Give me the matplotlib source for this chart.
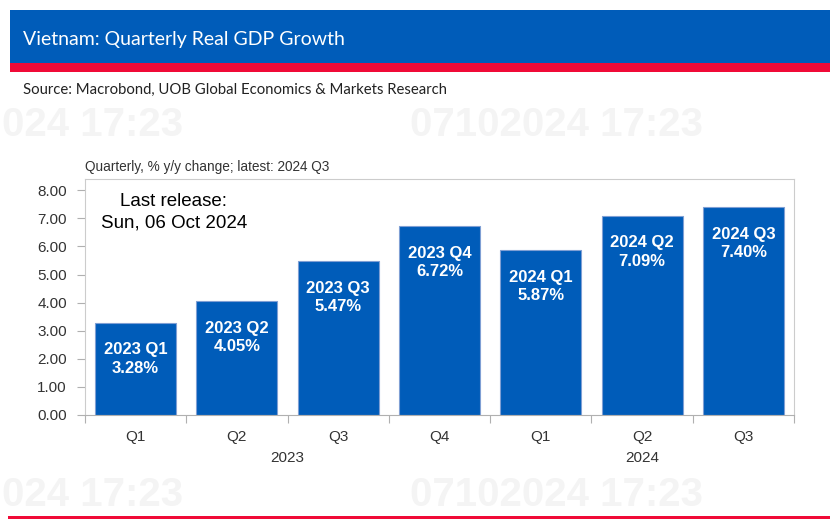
import matplotlib
matplotlib.use("Agg")
import matplotlib.pyplot as plt
from matplotlib.patches import Rectangle
from matplotlib import transforms
import numpy as np

# data
quarters = ["Q1", "Q2", "Q3", "Q4", "Q1", "Q2", "Q3"]
years = ["2023", "2023", "2023", "2023", "2024", "2024", "2024"]
growth = [3.28, 4.05, 5.47, 6.72, 5.87, 7.09, 7.40]
year_groups = [("2023", 0, 3), ("2024", 4, 6)]

BLUE = "#005CB9"
RED = "#F00A37"
plt.rcParams["font.family"] = ["Liberation Sans", "DejaVu Sans"]

fig = plt.figure(figsize=(8.35, 5.22), dpi=100)
W, H = 835.0, 522.0

def fx(px):
    return px / W

def fy(py):
    return 1 - py / H

# faint watermark
for (x, y, s) in [(2, 125, "024 17:23"), (410, 125, "07102024 17:23"),
                  (2, 495, "024 17:23"), (410, 495, "07102024 17:23")]:
    fig.text(fx(x), fy(y), s, ha="left", va="center",
             fontsize=29, fontweight="bold", color="#f4f4f4",
             family=["Liberation Sans Narrow", "Liberation Sans"], zorder=0)

# header band
fig.patches.append(Rectangle((fx(10), fy(63)), fx(820), 53 / H, transform=fig.transFigure,
                             facecolor=BLUE, edgecolor="none", zorder=1))
fig.patches.append(Rectangle((fx(10), fy(72)), fx(820), 9 / H, transform=fig.transFigure,
                             facecolor=RED, edgecolor="none", zorder=1))
fig.patches.append(Rectangle((fx(8), fy(519)), fx(822), 3 / H, transform=fig.transFigure,
                             facecolor=RED, edgecolor="none", zorder=1))
fig.text(fx(23), fy(40), "Vietnam: Quarterly Real GDP Growth", color="white",
         fontsize=14, family=["Lato", "DejaVu Sans"], va="center", ha="left", zorder=2)
fig.text(fx(23), fy(90), "Source: Macrobond, UOB Global Economics & Markets Research",
         color="#222222", fontsize=10.7, family=["Lato", "DejaVu Sans"], va="center", ha="left")

ax = fig.add_axes([fx(85), fy(415), fx(709), (415 - 179) / H])
ax.patch.set_alpha(0)
x = np.arange(len(growth))
ax.bar(x, growth, width=0.8, color=BLUE, edgecolor="#7f9fd4", linewidth=0.8, zorder=2)
ax.set_xlim(-0.5, len(growth) - 0.5)
ax.set_ylim(0, 8.4)

for i, v in enumerate(growth):
    ax.annotate(f"{years[i]} {quarters[i]}\n{v:.2f}%", (i, v), xytext=(0, -14),
                textcoords="offset points", ha="center", va="top", color="white",
                fontsize=12, fontweight="bold", linespacing=1.3, zorder=3)

ax.set_yticks(np.arange(0, 9, 1))
ax.set_yticklabels([f"{t:.2f}" for t in np.arange(0, 9, 1)])
ax.set_xticks(np.arange(-0.5, len(growth), 1))
ax.set_xticklabels([])
ax.set_xticks(x, minor=True)
ax.set_xticklabels(quarters, minor=True)
ax.tick_params(axis="x", which="minor", length=0, pad=11, labelsize=11, labelcolor="#333333")
ax.tick_params(axis="x", which="major", length=6, color="#b0b0b0")
ax.tick_params(axis="y", length=6, color="#b0b0b0", labelsize=11, labelcolor="#333333", pad=7)

for s in ["left", "top", "right"]:
    ax.spines[s].set_color("#cccccc")
ax.spines["bottom"].set_color("#b0b0b0")

trans = transforms.blended_transform_factory(ax.transData, ax.transAxes)
for name, a, b in year_groups:
    ax.text((a + b) / 2, -43 / 236, name, transform=trans, ha="center", va="center",
            fontsize=11, color="#333333")

ax.text(0, 1.05, "Quarterly, % y/y change; latest: 2024 Q3", transform=ax.transAxes,
        fontsize=9.8, color="#333333", ha="left", va="center")
ax.text((174 - 85) / 709, 1 - (202 - 179) / 236, "Last release:", transform=ax.transAxes,
        fontsize=13.5, ha="center", va="center", color="black")
ax.text((174 - 85) / 709, 1 - (223 - 179) / 236, "Sun, 06 Oct 2024", transform=ax.transAxes,
        fontsize=13.5, ha="center", va="center", color="black")

fig.savefig("out.png", dpi=100)
